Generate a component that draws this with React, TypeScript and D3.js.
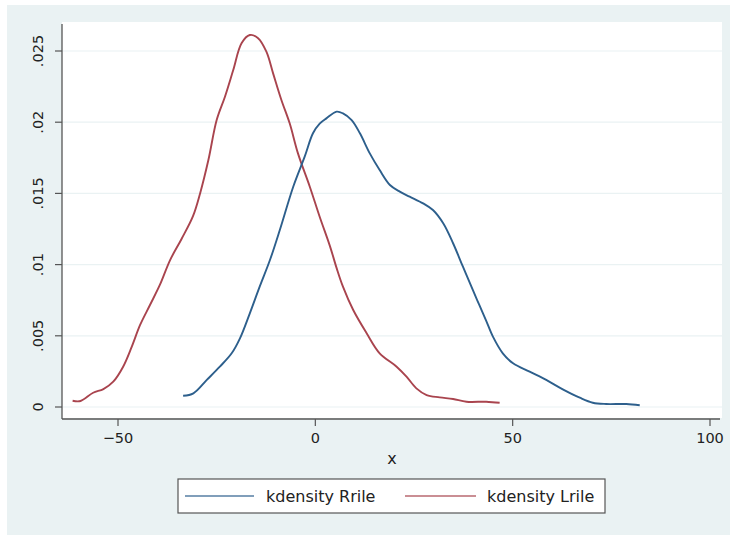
import React from "react";
import * as d3 from "d3";

const xTicks = [-50, 0, 50, 100];
const yTicks = [0, 0.005, 0.01, 0.015, 0.02, 0.025];
const yTickLabels = ["0", ".005", ".01", ".015", ".02", ".025"];
const xTitle = "x";
const seriesNames = ["kdensity Rrile", "kdensity Lrile"];

const rrileX = [-33.5, -30.9, -27.5, -24.2, -21.2, -19.1, -16.6, -14.1, -11.5, -9.0, -5.6, -2.7, -0.6, 1.1, 2.8, 5.4, 7.0, 9.2, 11.3, 13.8, 16.3, 18.9, 21.4, 23.9, 27.3, 29.8, 32.4, 34.9, 37.4, 39.9, 41.6, 43.3, 45.0, 47.5, 50.1, 54.3, 58.5, 62.7, 67.0, 70.3, 73.7, 78.8, 82.2];
const rrileY = [0.00079, 0.00096, 0.0019, 0.00283, 0.00377, 0.00482, 0.00658, 0.00845, 0.01032, 0.01243, 0.01547, 0.01758, 0.01922, 0.0199, 0.02027, 0.02074, 0.02062, 0.02015, 0.01922, 0.01781, 0.01664, 0.01559, 0.01512, 0.01477, 0.0143, 0.01383, 0.0129, 0.0115, 0.00985, 0.00822, 0.00713, 0.00605, 0.00494, 0.00377, 0.00307, 0.00248, 0.0019, 0.00124, 0.00065, 0.0003, 0.00021, 0.00021, 0.00012];

const lrileX = [-61.5, -59.5, -56.3, -53.7, -51.2, -48.7, -46.5, -44.4, -41.9, -39.4, -36.8, -33.9, -31.0, -29.2, -27.1, -25.0, -22.9, -20.8, -18.7, -16.6, -14.5, -12.4, -10.7, -8.6, -6.5, -4.4, -1.4, 1.1, 3.7, 5.4, 7.0, 9.6, 13.0, 16.3, 20.6, 23.1, 25.6, 28.2, 31.5, 34.9, 38.3, 43.3, 46.7];
const lrileY = [0.00044, 0.00042, 0.001, 0.00126, 0.00178, 0.00283, 0.00424, 0.00576, 0.00716, 0.00857, 0.01032, 0.0118, 0.0134, 0.015, 0.01734, 0.02015, 0.02179, 0.02366, 0.02554, 0.02612, 0.0259, 0.02495, 0.02343, 0.02156, 0.01992, 0.01781, 0.01547, 0.01336, 0.0113, 0.00975, 0.00845, 0.00681, 0.00518, 0.00377, 0.00283, 0.00213, 0.00131, 0.00084, 0.00068, 0.00056, 0.00037, 0.00037, 0.0003];

const BLUE = "#2d5f8c";
const RED = "#a9444e";
const FONT = "DejaVu Sans, sans-serif";

export default function App() {
  const W = 730;
  const H = 535;
  const plot = { left: 62, right: 722, top: 22, bottom: 418 };
  const x = d3.scaleLinear().domain([-50, 100]).range([118, 710]);
  const y = d3.scaleLinear().domain([0, 0.025]).range([407, 51]);

  const line = d3
    .line<[number, number]>()
    .x((d) => x(d[0]))
    .y((d) => y(d[1]))
    .curve(d3.curveCatmullRom.alpha(0.5));

  const rr: [number, number][] = rrileX.map((v, i) => [v, rrileY[i]]);
  const lr: [number, number][] = lrileX.map((v, i) => [v, lrileY[i]]);

  const axisColor = "#555";
  const textColor = "#222";

  return (
    <svg
      width={W}
      height={H}
      style={{ position: "absolute", left: 0, top: 0 }}
      fontFamily={FONT}
    >
      <rect x={0} y={0} width={W} height={H} fill="#ffffff" />
      <rect x={7} y={5} width={W - 7} height={H - 5} fill="#eaf2f3" />
      <rect
        x={plot.left}
        y={plot.top}
        width={plot.right - plot.left}
        height={plot.bottom - plot.top}
        fill="#ffffff"
      />
      {yTicks.map((t) => (
        <line
          key={"g" + t}
          x1={plot.left}
          x2={plot.right}
          y1={y(t)}
          y2={y(t)}
          stroke="#eaf2f3"
          strokeWidth={1.2}
        />
      ))}
      <line x1={plot.left} x2={plot.left} y1={24} y2={419} stroke={axisColor} strokeWidth={1.3} />
      <line x1={plot.left} x2={720} y1={419} y2={419} stroke={axisColor} strokeWidth={1.3} />
      {yTicks.map((t, i) => (
        <g key={"y" + t}>
          <line x1={55} x2={plot.left} y1={y(t)} y2={y(t)} stroke={axisColor} strokeWidth={1.2} />
          <text
            transform={`translate(43,${y(t)}) rotate(-90)`}
            textAnchor="middle"
            fontSize={14.5}
            fill={textColor}
          >
            {yTickLabels[i]}
          </text>
        </g>
      ))}
      {xTicks.map((t) => (
        <g key={"x" + t}>
          <line x1={x(t)} x2={x(t)} y1={419} y2={426} stroke={axisColor} strokeWidth={1.2} />
          <text x={x(t)} y={443} textAnchor="middle" fontSize={14.5} fill={textColor}>
            {t < 0 ? "\u2212" + Math.abs(t) : String(t)}
          </text>
        </g>
      ))}
      <text x={(plot.left + plot.right) / 2} y={464} textAnchor="middle" fontSize={16} fill={textColor}>
        {xTitle}
      </text>
      <path d={line(lr) || ""} fill="none" stroke={RED} strokeWidth={1.9} strokeLinejoin="round" />
      <path d={line(rr) || ""} fill="none" stroke={BLUE} strokeWidth={1.9} strokeLinejoin="round" />
      <rect x={178} y={479} width={427} height={34} fill="#ffffff" stroke="#555" strokeWidth={1.2} />
      <line x1={185} x2={254} y1={496} y2={496} stroke={BLUE} strokeWidth={1.6} opacity={0.8} />
      <text x={266} y={502} fontSize={16} fill={textColor}>
        {seriesNames[0]}
      </text>
      <line x1={405} x2={476} y1={496} y2={496} stroke={RED} strokeWidth={1.6} opacity={0.8} />
      <text x={487} y={502} fontSize={16} fill={textColor}>
        {seriesNames[1]}
      </text>
    </svg>
  );
}
